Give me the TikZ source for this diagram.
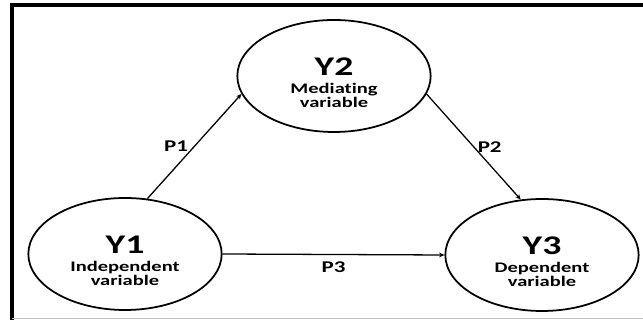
\documentclass[tikz,border=0pt]{standalone}
\usepackage{fontspec}
\newfontfamily\diagfont[FakeStretch=1.4,Ligatures=NoCommon]{Carlito}
\newcommand{\varname}[1]{\rule{0pt}{27pt}{\fontsize{23}{25}\selectfont #1}}
\newcommand{\vartext}[1]{{\fontsize{12.5}{14}\selectfont #1}}
\usetikzlibrary{arrows.meta,positioning,shapes.geometric}

\begin{document}
\begin{tikzpicture}[x=0.03cm,y=0.03cm,
  var/.style={draw,ellipse,line width=1.5pt,inner sep=0pt,minimum width=5.8cm,minimum height=3.36cm,align=center,font=\diagfont\bfseries},
  arr/.style={-{Stealth[length=4.5pt,width=4pt]},line width=1.1pt},
  lbl/.style={font=\diagfont\bfseries\fontsize{14}{16}\selectfont,inner sep=3pt}]
  \useasboundingbox (0,0) rectangle (643,320);
  \clip (0,0) rectangle (643,320);
  % Frame
  \draw[line width=3.4pt] (12,-5) -- (12,315) -- (660,315);
  \draw[black!25,line width=0.8pt] (12,2) -- (643,2);
  % Variables
  \node[var] (y2) at (334,244) {\varname{Y2}\\[3pt]\vartext{Mediating}\\[0.5pt]\vartext{variable}};
  \node[var] (y1) at (125,66) {\varname{Y1}\\[3pt]\vartext{Independent}\\[0.5pt]\vartext{variable}};
  \node[var] (y3) at (542,65) {\varname{Y3}\\[3pt]\vartext{Dependent}\\[0.5pt]\vartext{variable}};
  % Paths
  \draw[arr] (y1.68) -- (y2.191) node[lbl,midway,left,xshift=-2pt] {P1};
  \draw[arr] (y2.349) -- (y3.111) node[lbl,midway,right] {P2};
  \draw[arr] (y1.east) -- (y3.west) node[lbl,midway,below,inner sep=6pt] {P3};
\end{tikzpicture}
\end{document}
